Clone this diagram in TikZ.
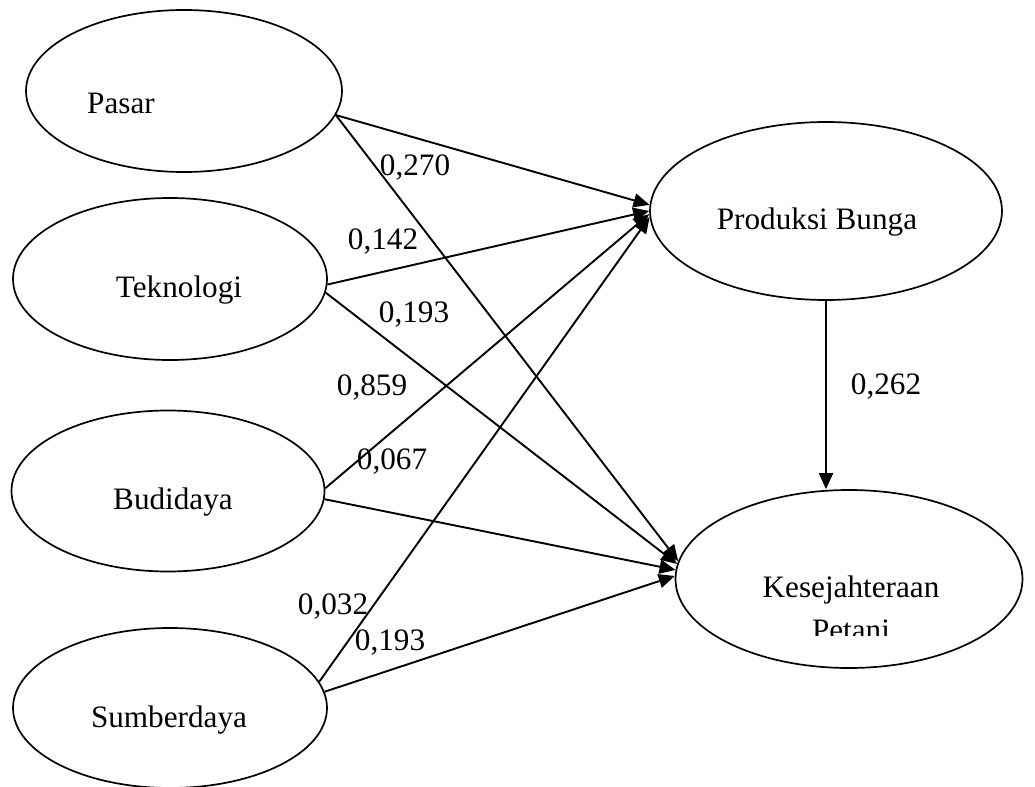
\documentclass[tikz,border=0pt]{standalone}
\usepackage{fontspec}
\setmainfont{Liberation Serif}
\usepackage{tikz}
\usetikzlibrary{arrows.meta, positioning, shapes.geometric}

\tikzset{
  % Exogenous constructs
  construct/.style={
    ellipse, draw=black, line width=0.85pt, inner sep=0pt,
    minimum width=157pt, minimum height=81pt,
  },
  % Endogenous constructs
  outcome/.style={
    ellipse, draw=black, line width=0.85pt, inner sep=0pt,
    minimum width=175pt, minimum height=89pt,
  },
  % Construct names
  cname/.style={font=\fontsize{15.6}{18}\selectfont, anchor=base, inner sep=0pt},
  % Path coefficients
  coef/.style={font=\fontsize{15.6}{18}\selectfont, inner sep=0pt},
  % Arrows
  patharrow/.style={-{Triangle[length=8pt, width=7pt]}, line width=0.95pt},
}

\begin{document}
\begin{tikzpicture}[x=0.5pt, y=-0.5pt]
  \useasboundingbox (0,0) rectangle (1035,787);

  % Exogenous constructs
  \node[construct, minimum width=158pt] (pasar) at (184,91) {};
  \node[construct] (tekno) at (170,279) {};
  \node[construct, minimum width=156.5pt, minimum height=80.5pt] (budi) at (168,491) {};
  \node[construct, minimum height=80pt] (sumber) at (170,708) {};

  % Endogenous constructs
  \node[outcome, minimum width=176pt] (prod) at (826,211) {};
  \node[outcome, minimum width=173.5pt] (kesej) at (849,579) {};

  % Names
  \node[cname] (lpasar) at (121,113) {Pasar};
  \node[cname] (ltekno) at (179,297) {Teknologi};
  \node[cname] (lbudi) at (173,509) {Budidaya};
  \node[cname] (lsumber) at (169,727) {Sumberdaya};
  \node[cname] (lprod) at (817,229) {Produksi Bunga};
  \node[cname] (lkesej) at (851,597) {Kesejahteraan};
  \begin{scope}
    \clip (700,560) rectangle (1000,635);
    \node[cname] (lpetani) at (851,640) {Petani};
  \end{scope}

  % Paths
  \draw[patharrow] (pasar.-9) -- (prod.178.7);
  \draw[patharrow] (pasar.-9) -- (kesej.174);
  \draw[patharrow] (tekno.-2) -- (prod.180.3);
  \draw[patharrow] (tekno.-5) -- (kesej.175.5);
  \draw[patharrow] (budi.1) -- (prod.181.3);
  \draw[patharrow] (budi.-3) -- (kesej.177.5);
  \draw[patharrow] (sumber.10) -- (prod.182);
  \draw[patharrow] (sumber.6) -- (kesej.179.5);
  \draw[patharrow] (prod.south) -- (prod.south |- kesej.north);

  % Coefficients
  \node[coef] (c1) at (415,168) {0,270};
  \node[coef] (c2) at (383,242) {0,142};
  \node[coef] (c3) at (414,315) {0,193};
  \node[coef] (c4) at (372,388) {0,859};
  \node[coef] (c5) at (392,462) {0,067};
  \node[coef] (c6) at (333,607) {0,032};
  \node[coef] (c7) at (390,643) {0,193};
  \node[coef] (c8) at (886,387) {0,262};

\end{tikzpicture}
\end{document}
